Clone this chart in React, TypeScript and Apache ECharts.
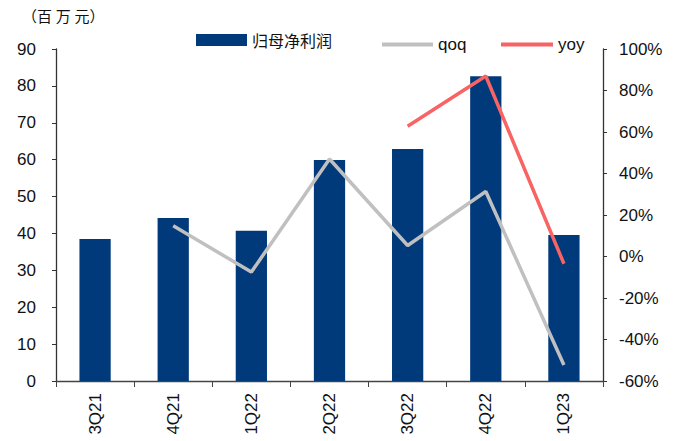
import React, { useEffect, useRef } from "react";
import * as echarts from "echarts";

const categories = ["3Q21", "4Q21", "1Q22", "2Q22", "3Q22", "4Q22", "1Q23"];
const profit = [38.5, 44.2, 40.7, 59.9, 62.9, 82.6, 39.6];
const qoq = [null, 14.8, -7.5, 47.0, 5.3, 31.3, -52.3];
const yoy = [null, null, null, null, 62.8, 87.0, -3.5];
const leftTicks = { min: 0, max: 90, interval: 10 };
const rightTicks = { min: -60, max: 100, interval: 20 };
const unitLabel = "（百\u2005万\u2005元）";

const FONT = "Liberation Sans, Arial, sans-serif";
const CJK = "Noto Sans CJK SC";

export default function App() {
  const ref = useRef<HTMLDivElement>(null);
  useEffect(() => {
    if (!ref.current) return;
    const chart = echarts.init(ref.current, undefined, { renderer: "svg" });
    const axisLine = { show: true, lineStyle: { color: "#333", width: 1.3 } };
    chart.setOption({
      animation: false,
      backgroundColor: "#fff",
      grid: { left: 56, right: 78, top: 49, bottom: 60, containLabel: false },
      title: {
        text: unitLabel,
        left: 22,
        top: 8,
        padding: 0,
        textStyle: { fontFamily: CJK, fontSize: 15, fontWeight: "normal", color: "#111" },
      },
      legend: [
        {
          data: [{ name: "归母净利润", icon: "rect" }],
          left: 191,
          top: 27,
          itemWidth: 51,
          itemHeight: 12,
          textStyle: { fontFamily: CJK, fontSize: 16, color: "#111" },
        },
        {
          data: [{ name: "qoq", icon: "rect" }],
          left: 377,
          top: 31,
          itemWidth: 51,
          itemHeight: 4,
          itemGap: 4,
          textStyle: { fontFamily: FONT, fontSize: 17, color: "#111" },
        },
        {
          data: [{ name: "yoy", icon: "rect" }],
          left: 496,
          top: 31,
          itemWidth: 52,
          itemHeight: 4,
          textStyle: { fontFamily: FONT, fontSize: 17, color: "#111" },
        },
      ],
      xAxis: {
        type: "category",
        data: categories,
        boundaryGap: true,
        axisLine: { show: true, lineStyle: { color: "#444", width: 1.3 } },
        axisTick: { show: true, length: 6, inside: false, alignWithLabel: false, lineStyle: { color: "#444" } },
        axisLabel: { rotate: 90, fontFamily: FONT, fontSize: 17, color: "#111", margin: 12 },
      },
      yAxis: [
        {
          type: "value",
          ...leftTicks,
          position: "left",
          axisLine,
          axisTick: { show: true, length: 4, lineStyle: { color: "#333" } },
          splitLine: { show: false },
          axisLabel: { fontFamily: FONT, fontSize: 17, color: "#111", margin: 20 },
        },
        {
          type: "value",
          ...rightTicks,
          position: "right",
          axisLine,
          axisTick: { show: true, length: 4, lineStyle: { color: "#333" } },
          splitLine: { show: false },
          axisLabel: { fontFamily: FONT, fontSize: 17, color: "#111", margin: 16, formatter: "{value}%" },
        },
      ],
      series: [
        {
          name: "归母净利润",
          type: "bar",
          data: profit,
          barWidth: "40%",
          itemStyle: { color: "#003A7A" },
          yAxisIndex: 0,
        },
        {
          name: "qoq",
          type: "line",
          data: qoq,
          yAxisIndex: 1,
          symbol: "none",
          lineStyle: { color: "#C0C0C0", width: 3.5 },
          itemStyle: { color: "#C0C0C0" },
        },
        {
          name: "yoy",
          type: "line",
          data: yoy,
          yAxisIndex: 1,
          symbol: "none",
          lineStyle: { color: "#F86464", width: 3.5 },
          itemStyle: { color: "#F86464" },
        },
      ],
    });
    return () => chart.dispose();
  }, []);
  return <div ref={ref} style={{ width: 681, height: 441, position: "absolute", left: 0, top: 0 }} />;
}
